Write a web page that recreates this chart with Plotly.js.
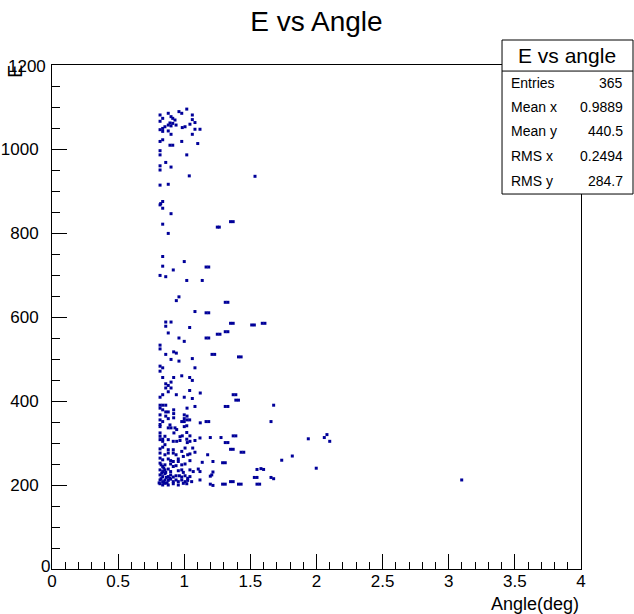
<!DOCTYPE html>
<html>
<head>
<meta charset="utf-8">
<script src="https://cdn.plot.ly/plotly-3.0.1.min.js"></script>
<style>html,body{margin:0;padding:0;background:#fff;}#chart{width:634px;height:614px;}</style>
</head>
<body>
<div id="chart"></div>
<script>
// Angle (deg) of each filled cell
const angle = [
 0.817,0.879,0.837,0.817,0.900,0.913,0.930,0.960,0.981,1.019,1.061,1.061,1.081,1.043,0.892,0.913,0.938,0.900,0.879,0.854,
 0.837,0.817,0.837,0.985,1.006,1.081,1.119,0.879,0.900,1.061,0.817,0.837,0.981,0.892,0.913,1.102,0.817,0.817,1.019,0.860,
 0.817,0.817,0.900,1.038,0.817,0.879,1.535,
 0.837,0.817,0.822,0.837,0.900,0.837,0.879,1.250,1.265,1.350,1.370,0.837,1.000,0.837,0.917,0.817,0.860,1.165,1.185,1.019,
 1.136,0.960,0.940,1.310,1.330,1.081,1.165,1.185,0.860,0.900,0.860,1.041,1.350,1.370,1.510,1.530,1.590,1.610,0.879,0.960,
 1.165,1.185,1.250,1.270,1.310,1.330,
 1.000,0.817,0.817,0.860,0.920,0.940,0.900,0.960,1.061,1.210,1.230,1.410,1.430,0.817,0.837,0.817,1.081,0.837,0.920,0.981,
 1.041,1.061,0.860,0.879,0.900,0.860,0.900,0.879,0.837,0.817,0.940,1.041,1.121,1.000,1.061,1.370,1.390,1.390,1.410,
 0.817,0.837,0.860,0.817,0.837,0.920,0.920,0.920,1.021,1.081,1.310,1.330,0.860,0.879,0.860,0.817,0.879,0.837,0.817,0.817,
 1.000,1.021,1.000,1.021,0.981,1.000,1.041,1.121,1.165,1.185,0.879,0.900,1.000,
 1.676,1.656,1.278,1.370,1.390,1.310,1.330,1.350,1.370,1.430,1.450,1.290,1.310,1.938,2.059,2.079,2.100,1.737,1.817,1.998,
 1.550,1.580,1.600,1.530,1.550,1.656,1.676,1.350,1.370,1.290,1.310,1.410,1.430,1.550,1.570,3.098,
 1.197,1.177,1.217,1.217,1.208,1.197,1.197,1.217,
 0.817,0.892,0.930,0.943,1.019,0.817,0.817,0.837,0.854,0.879,0.917,0.943,0.968,1.019,1.043,1.019,1.081,
 0.922,0.968,0.985,1.119,0.817,0.837,1.023,1.043,0.854,0.837,0.817,0.879,0.917,1.006,1.064,0.981,1.081,
 0.817,0.854,0.879,0.917,0.938,1.026,1.043,0.993,0.817,0.837,0.879,0.897,0.917,0.955,0.955,1.043,1.136,
 0.817,0.854,0.837,0.897,0.917,0.938,0.981,1.006,1.106,1.119,0.817,0.837,0.854,0.879,0.897,0.955,0.981,0.993,1.043,1.068,
 0.817,0.837,0.854,0.879,0.897,0.917,0.938,0.963,0.981,1.006,1.026,1.043,1.119,
 0.817,0.837,0.854,0.879,0.897,0.917,0.938,0.955,0.981,1.006,1.026,1.056,
 0.817,0.837,0.854,0.879,0.917,0.955,0.993,1.019,
 0.825,0.845,0.830,0.865,0.845,0.870,0.890,0.810,0.825,0.860
];
// Energy of each filled cell
const energy = [
 1081,1085,1073,1066,1077,1073,1069,1089,1085,1095,1081,1070,1063,1059,1062,1061,1057,1055,1057,1053,
 1049,1046,1042,1051,1053,1047,1047,1043,1035,1035,1018,1022,1018,1009,1009,1013,996,986,986,968,
 960,950,957,936,914,916,935,
 875,867,870,859,846,821,799,814,814,827,827,744,732,721,712,699,696,719,719,687,
 687,648,639,635,635,613,610,610,588,588,578,575,585,585,581,581,585,585,562,550,
 550,550,559,559,565,565,
 542,533,524,511,517,514,499,495,501,511,511,505,505,483,479,471,479,456,456,460,
 456,449,441,437,445,431,431,422,415,409,415,425,419,409,406,415,415,402,402,
 390,390,390,383,379,379,370,360,383,387,387,387,374,374,364,367,358,351,344,339,
 367,364,358,355,351,351,355,348,351,351,336,336,339,
 390,351,313,317,317,301,301,285,285,278,278,253,253,310,313,320,304,259,269,240,
 237,239,237,218,218,218,215,208,208,202,202,202,202,202,202,212,
 313,272,256,231,224,221,202,199,
 355,343,336,332,341,324,316,309,316,308,304,304,306,325,317,309,306,
 324,315,317,312,308,304,301,304,296,290,286,284,284,288,288,280,278,
 276,272,276,276,272,272,274,268,264,260,262,258,256,262,256,258,254,
 252,248,244,250,244,246,248,250,238,232,236,232,236,238,232,234,236,230,236,232,
 224,220,227,220,224,219,222,222,219,222,216,220,212,
 212,208,212,211,214,208,212,208,212,208,211,208,
 203,200,204,200,203,200,204,203,
 215,206,228,218,240,205,216,205,248,230
];
const xTicks = [0,0.5,1,1.5,2,2.5,3,3.5,4];
const xTickText = ["0","0.5","1","1.5","2","2.5","3","3.5","4"];
const yTicks = [0,200,400,600,800,1000,1200];
const yTickText = ["","200","400","600","800","1000",""];
const yZeroLabel = "0";
const yTopLabel = "1200";
const statLabels = ["Entries","Mean x","Mean y","RMS x","RMS y"];
const statValues = ["365","0.9889","440.5","0.2494","284.7"];

const FONT = "Liberation Sans, Arial, Helvetica, sans-serif";

const trace = {
  x: angle, y: energy, type: "scatter", mode: "markers",
  marker: {symbol: "square", size: 3, color: "#000099", line: {width: 0}},
  hoverinfo: "skip"
};

// stats box geometry in paper coords
const bx0 = 0.8507, bx1 = 1.0983, by0 = 0.744, by1 = 1.0496, bsep = 0.988;
const rowY = [0.9643, 0.9167, 0.8690, 0.8194, 0.7698];

const annotations = [];
annotations.push({xref:"paper", yref:"paper", x:0.9735, y:1.0198, text:"E vs angle", showarrow:false,
  xanchor:"center", yanchor:"middle", font:{family:FONT, size:21, color:"#000"}});
statLabels.forEach((t,i)=>{
  annotations.push({xref:"paper", yref:"paper", x:0.8639, y:rowY[i], text:t, showarrow:false,
    xanchor:"left", yanchor:"middle", font:{family:FONT, size:14, color:"#000"}});
  annotations.push({xref:"paper", yref:"paper", x:1.0832, y:rowY[i], text:statValues[i], showarrow:false,
    xanchor:"right", yanchor:"middle", font:{family:FONT, size:14, color:"#000"}});
});
annotations.push({xref:"paper", yref:"paper", x:1, y:-0.07, text:"Angle(deg)", showarrow:false,
  xanchor:"right", yanchor:"middle", font:{family:FONT, size:18, color:"#000"}});
annotations.push({xref:"paper", yref:"paper", x:-0.07, y:0.988, text:"E", textangle:-90, showarrow:false,
  xanchor:"center", yanchor:"middle", font:{family:FONT, size:20, color:"#000"}});
annotations.push({xref:"paper", yref:"paper", x:-0.0132, y:0.004, text:yZeroLabel, showarrow:false,
  xanchor:"center", yanchor:"middle", font:{family:FONT, size:17, color:"#000"}});
annotations.push({xref:"paper", yref:"paper", x:-0.0057, y:0.998, text:yTopLabel, showarrow:false,
  xanchor:"right", yanchor:"middle", xshift:-1, font:{family:FONT, size:17, color:"#000"}});

const layout = {
  width: 634, height: 614,
  margin: {l:52, r:53, t:65, b:45, pad:0},
  paper_bgcolor: "#fff", plot_bgcolor: "#fff",
  showlegend: false,
  title: {text:"E vs Angle", x:0.5, xref:"paper", y:1-21/614, yref:"container", yanchor:"middle",
    font:{family:FONT, size:28, color:"#000"}},
  xaxis: {range:[0,4], tickvals:xTicks, ticktext:xTickText, ticks:"inside", ticklen:15, tickwidth:1, tickcolor:"#000",
    minor:{dtick:0.1, ticks:"inside", ticklen:7, tickwidth:1, tickcolor:"#000"},
    showgrid:false, zeroline:false, showline:true, mirror:true, linecolor:"#000", linewidth:1,
    tickfont:{family:FONT, size:17, color:"#000"}, ticklabelstandoff:-3},
  yaxis: {range:[0,1200], tickvals:yTicks, ticktext:yTickText, ticks:"inside", ticklen:15, tickwidth:1, tickcolor:"#000",
    minor:{dtick:50, ticks:"inside", ticklen:8, tickwidth:1, tickcolor:"#000"},
    showgrid:false, zeroline:false, showline:true, mirror:true, linecolor:"#000", linewidth:1,
    tickfont:{family:FONT, size:17, color:"#000"}, ticklabelstandoff:9},
  shapes: [
    {type:"rect", xref:"paper", yref:"paper", x0:bx0, x1:bx1, y0:by0, y1:by1, layer:"above",
      fillcolor:"#fff", line:{color:"#000", width:1}},
    {type:"line", xref:"paper", yref:"paper", x0:bx0, x1:bx1, y0:bsep, y1:bsep, layer:"above",
      line:{color:"#000", width:1}}
  ],
  annotations: annotations
};

Plotly.newPlot("chart", [trace], layout, {staticPlot:true, displayModeBar:false});
</script>
</body>
</html>
